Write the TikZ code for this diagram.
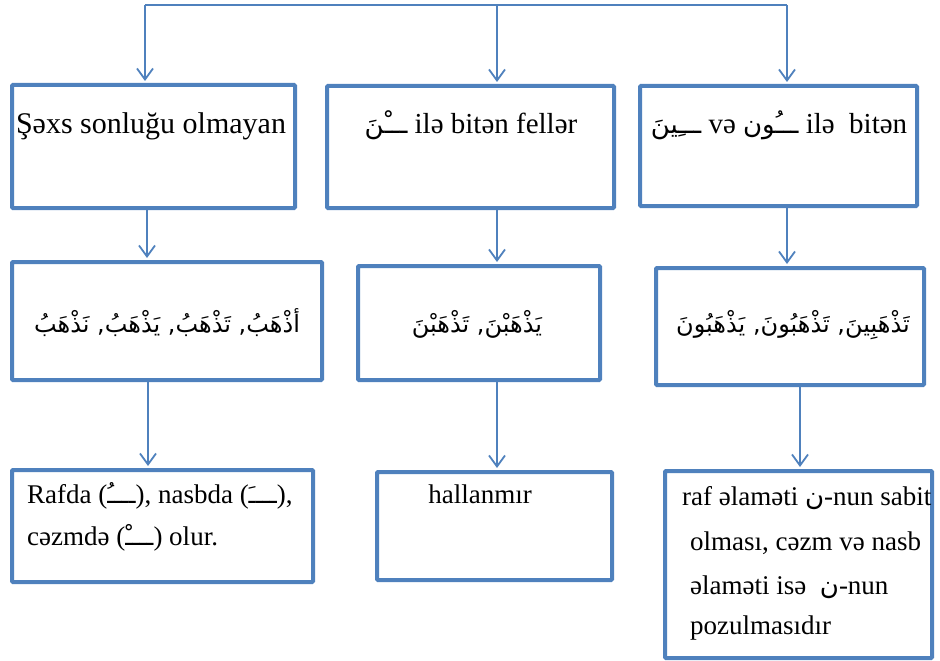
\documentclass[tikz,border=0pt]{standalone}
\usepackage{fontspec}
\setmainfont{Liberation Serif}
\newfontfamily\arabicfont[Script=Arabic]{DejaVu Sans}
\TeXXeTstate=1
\usetikzlibrary{arrows.meta}
\definecolor{boxblue}{HTML}{4F81BD}
\newcommand{\ar}[2][22pt]{{\arabicfont\fontsize{#1}{#1}\selectfont\beginR #2\endR}}
\begin{document}
\begin{tikzpicture}[x=1pt,y=-1pt,
  box/.style={draw=boxblue, line width=4pt, rounded corners=1pt, inner sep=0pt, fill=white},
  conn/.style={draw=boxblue, line width=1.8pt, shorten >=2pt, -{Straight Barb[length=11pt,width=16pt,line width=1.8pt]}},
  plain/.style={draw=boxblue, line width=1.8pt},
  big/.style={font=\fontsize{29}{35}\selectfont, inner sep=0pt},
  small/.style={font=\fontsize{27}{35}\selectfont, inner sep=0pt}]
\useasboundingbox (0,0) rectangle (940,661);

% boxes
\node[box, minimum width=283pt, minimum height=123pt] (b1) at (153.5,146.5) {};
\node[box, minimum width=287pt, minimum height=122pt] (b2) at (470.5,147) {};
\node[box, minimum width=277pt, minimum height=120pt] (b3) at (778.5,146) {};
\node[box, minimum width=310pt, minimum height=118pt] (b4) at (167,321) {};
\node[box, minimum width=242pt, minimum height=114pt] (b5) at (479,323) {};
\node[box, minimum width=268pt, minimum height=117pt] (b6) at (790,326.5) {};
\node[box, minimum width=301pt, minimum height=112pt] (b7) at (162.5,526) {};
\node[box, minimum width=235pt, minimum height=108pt] (b8) at (494.5,526) {};
\node[box, minimum width=267pt, minimum height=187pt] (b9) at (798.5,564.5) {};

% top connectors
\coordinate (p1) at (145,5);
\coordinate (p2) at (497,5);
\coordinate (p3) at (787,5);
\draw[plain] (p1) -- (p3);
\draw[conn] (p1) -- (b1.north -| p1);
\draw[conn] (p2) -- (b2.north -| p2);
\draw[conn] (p3) -- (b3.north -| p3);

% vertical connectors
\coordinate (c1) at (147,0);
\coordinate (c2) at (497,0);
\coordinate (c3) at (787,0);
\coordinate (c4) at (148,0);
\coordinate (c5) at (497,0);
\coordinate (c6) at (800,0);
\draw[conn] (b1.south -| c1) -- (b4.north -| c1);
\draw[conn] (b2.south -| c2) -- (b5.north -| c2);
\draw[conn] (b3.south -| c3) -- (b6.north -| c3);
\draw[conn] (b4.south -| c4) -- (b7.north -| c4);
\draw[conn] (b5.south -| c5) -- (b8.north -| c5);
\draw[conn] (b6.south -| c6) -- (b9.north -| c6);

% texts
\node[big, font=\fontsize{30}{35}\selectfont, anchor=base] (t1) at (151,133) {Şəxs sonluğu olmayan};
\node[big, anchor=base] (t2) at (471,133) {\ar[26pt]{ـــْنَ} ilə bitən fellər};
\node[big, anchor=base] (t3) at (779,133) {\ar[26pt]{ـــِينَ} və \ar[26pt]{ـــُون} ilə\ \ bitən};

\node[inner sep=0pt, anchor=base] (t4) at (167,332) {\ar[24pt]{أذْهَبُ, تَذْهَبُ, يَذْهَبُ, نَذْهَبُ}};
\node[inner sep=0pt, anchor=base] (t5) at (477,332) {\ar[24pt]{يَذْهَبْنَ, تَذْهَبْنَ}};
\node[inner sep=0pt, anchor=base] (t6) at (793,332) {\ar[24pt]{تَذْهَبِينَ, تَذْهَبُونَ, يَذْهَبُونَ}};

\node[small, anchor=base west] (t7a) at (27,503) {Rafda (\ar[24pt]{ــــُ}), nasbda (\ar[24pt]{ــــَ}),};
\node[small, anchor=base west] (t7b) at (27,545) {cəzmdə (\ar[24pt]{ــــْ}) olur.};
\node[small, anchor=base] (t8) at (480,503) {hallanmır};
\node[small, anchor=base west] (t9a) at (682,505) {raf əlaməti \ar[26pt]{ن}-nun sabit};
\node[small, anchor=base west] (t9b) at (690,550) {olması, cəzm və nasb};
\node[small, anchor=base west] (t9c) at (690,594) {əlaməti isə\ \ \ar[26pt]{ن}-nun};
\node[small, anchor=base west] (t9d) at (690,634) {pozulmasıdır};
\end{tikzpicture}
\end{document}
